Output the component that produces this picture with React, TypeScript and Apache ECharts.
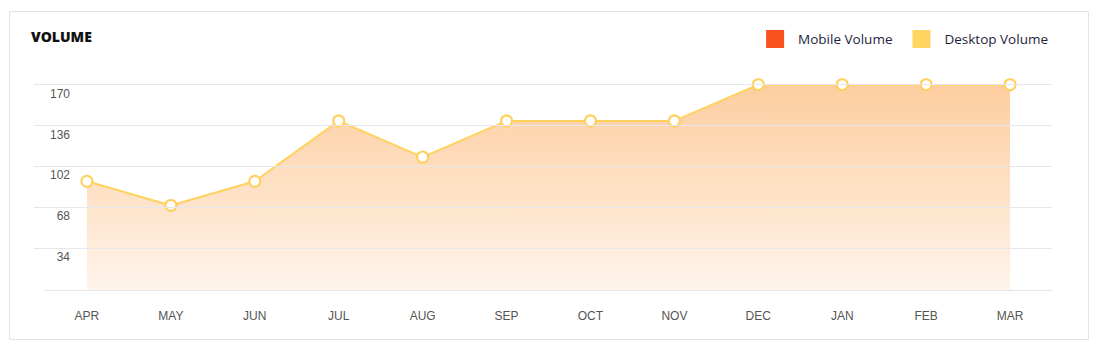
import React, { useEffect, useRef } from "react";
import * as echarts from "echarts";

const months = ["APR", "MAY", "JUN", "JUL", "AUG", "SEP", "OCT", "NOV", "DEC", "JAN", "FEB", "MAR"];
const desktopVolume = [90, 70, 90, 140, 110, 140, 140, 140, 170, 170, 170, 170];
const mobileVolume: number[] = [];
const seriesNames = ["Mobile Volume", "Desktop Volume"];
const seriesColors = ["#fc5220", "#ffd460"];
const yMax = 170;
const yStep = 34;

export default function App() {
  const ref = useRef<HTMLDivElement>(null);
  useEffect(() => {
    if (!ref.current) return;
    const chart = echarts.init(ref.current, undefined, { renderer: "svg" });
    const labelFont = "'Liberation Sans', Arial, sans-serif";
    chart.setOption({
      animation: false,
      graphic: [
        {
          type: "rect",
          shape: { x: 9.5, y: 11.5, width: 1079, height: 328 },
          style: { fill: "#fff", stroke: "#e2e2e8", lineWidth: 1 },
          z: -10,
        },
        {
          type: "text",
          x: 31,
          y: 36,
          style: {
            text: "VOLUME",
            fill: "#111",
            font: "900 14px 'Open Sans', 'DejaVu Sans', sans-serif",
            verticalAlign: "middle",
          },
        },
      ],
      legend: {
        data: seriesNames.map((n, i) => ({
          name: n,
          itemStyle: { color: seriesColors[i], borderWidth: 0 },
        })),
        right: 60,
        top: 25,
        icon: "rect",
        itemWidth: 18,
        itemHeight: 18,
        itemGap: 20,
        textStyle: {
          color: "#1d1f3d",
          fontSize: 13.5,
          fontFamily: "'Open Sans', sans-serif",
          padding: [0, 0, 0, 9],
        },
      },
      grid: [
        { left: 34, right: 61, top: 84.7, bottom: 110.8 },
        { left: 45, right: 61, top: 84.7, bottom: 69 },
      ],
      xAxis: [
        { type: "category", gridIndex: 0, data: months, show: false },
        {
          type: "category",
          gridIndex: 1,
          data: months,
          boundaryGap: true,
          axisLine: { lineStyle: { color: "#e4e4ea" } },
          axisTick: { show: false },
          axisLabel: { color: "#555", fontSize: 12, fontFamily: labelFont, margin: 20 },
        },
      ],
      yAxis: [
        {
          type: "value",
          gridIndex: 0,
          min: yStep,
          max: yMax,
          interval: yStep,
          axisLine: { show: false },
          axisTick: { show: false },
          splitLine: { lineStyle: { color: "#e6e6ec" } },
          axisLabel: {
            inside: true,
            margin: 36,
            align: "right",
            verticalAlign: "top",
            padding: [3, 0, 0, 0],
            color: "#555",
            fontSize: 12,
            fontFamily: labelFont,
          },
          z: 5,
        },
        {
          type: "value",
          gridIndex: 1,
          min: 0,
          max: yMax,
          interval: yStep,
          show: false,
          splitLine: { show: false },
        },
      ],
      series: [
        {
          name: seriesNames[0],
          type: "line",
          xAxisIndex: 1,
          yAxisIndex: 1,
          data: mobileVolume,
          itemStyle: { color: seriesColors[0] },
          lineStyle: { color: seriesColors[0] },
        },
        {
          name: seriesNames[1],
          type: "line",
          xAxisIndex: 1,
          yAxisIndex: 1,
          data: desktopVolume,
          symbol: "circle",
          symbolSize: 11,
          itemStyle: { color: "#fff", borderColor: "#ffcf5a", borderWidth: 2 },
          lineStyle: { color: "#ffd25e", width: 2 },
          areaStyle: {
            opacity: 1,
            color: new echarts.graphic.LinearGradient(0, 0, 0, 1, [
              { offset: 0, color: "rgba(252,178,108,0.65)" },
              { offset: 1, color: "rgba(252,178,108,0.14)" },
            ]),
          },
          z: 3,
        },
      ],
      color: seriesColors,
    });
    return () => chart.dispose();
  }, []);
  return (
    <div
      ref={ref}
      style={{ position: "absolute", left: 0, top: 0, width: 1113, height: 359 }}
    />
  );
}
